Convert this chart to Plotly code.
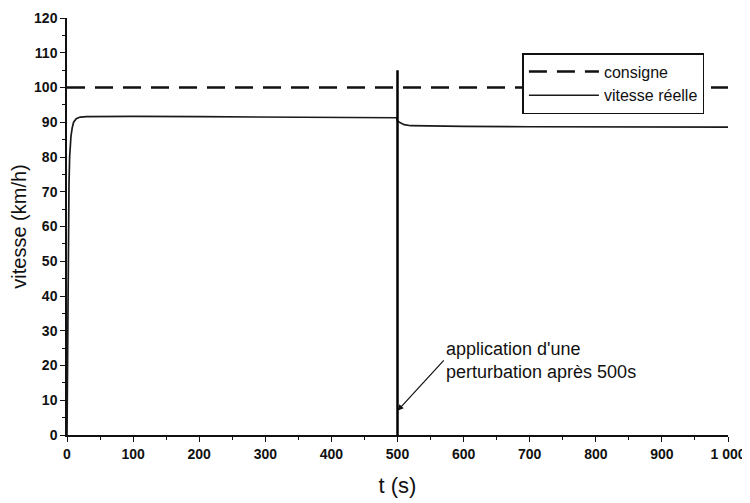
import plotly.graph_objects as go

# ---- data ----
t_consigne = [0, 1000]
consigne = [100, 100]

t_vitesse = [0, 1, 2, 3, 4, 6, 8, 10, 14, 20, 30, 60, 100, 200, 300, 400, 499,
             500, 505, 510, 520, 550, 600, 700, 800, 900, 1000]
vitesse = [0, 30, 55, 72, 80, 86, 88.5, 90, 91, 91.5, 91.6, 91.7, 91.7, 91.6, 91.5, 91.4, 91.3,
           90.3, 89.7, 89.3, 89.0, 88.9, 88.8, 88.7, 88.7, 88.6, 88.6]

perturbation_t = 500
perturbation_span = [0, 105]

x_ticks = [0, 100, 200, 300, 400, 500, 600, 700, 800, 900, 1000]
x_ticklabels = ["0", "100", "200", "300", "400", "500", "600", "700", "800", "900", "1 000"]
y_ticks = [0, 10, 20, 30, 40, 50, 60, 70, 80, 90, 100, 110, 120]

annotation_text = "application d'une<br>perturbation après 500s"
annotation_head = (500, 7)
annotation_tail = (570, 21.5)

FONT = "Liberation Sans, Arial, sans-serif"

fig = go.Figure()

fig.add_trace(go.Scatter(
    x=t_consigne, y=consigne, mode="lines", name="consigne",
    line=dict(color="#111111", width=2.5, dash="18px,10px"),
))
fig.add_trace(go.Scatter(
    x=t_vitesse, y=vitesse, mode="lines", name="vitesse réelle",
    line=dict(color="#1a1a1a", width=1.7),
))
fig.add_trace(go.Scatter(
    x=[perturbation_t, perturbation_t], y=perturbation_span, mode="lines",
    line=dict(color="#000000", width=2.5), showlegend=False, hoverinfo="skip",
))

fig.add_annotation(
    x=annotation_head[0], y=annotation_head[1],
    ax=annotation_tail[0], ay=annotation_tail[1], axref="x", ayref="y",
    text=annotation_text, showarrow=True, arrowhead=2, arrowsize=1, arrowwidth=1.2,
    arrowcolor="#111111", xanchor="left", yanchor="middle", align="left",
    font=dict(family=FONT, size=18, color="#111111"),
)

fig.update_layout(
    width=750, height=503,
    margin=dict(l=59, r=30, t=10, b=76),
    paper_bgcolor="white", plot_bgcolor="white",
    font=dict(family=FONT, color="#111111"),
    legend=dict(
        x=0.689, y=0.916, xanchor="left", yanchor="top",
        bordercolor="#111111", borderwidth=1.5, bgcolor="white",
        font=dict(family=FONT, size=16, color="#111111"),
        tracegroupgap=0, itemwidth=70,
    ),
)

fig.update_xaxes(
    range=[0, 1000], tickvals=x_ticks, ticktext=["<b>%s</b>" % s for s in x_ticklabels],
    automargin=False, ticklabeloverflow="allow",
    showgrid=False, zeroline=False, showline=True, linecolor="#111111", linewidth=1.5,
    ticks="outside", ticklen=5, tickcolor="#111111",
    minor=dict(dtick=50, ticks="outside", ticklen=3, tickcolor="#111111"),
    tickfont=dict(family=FONT, size=14, color="#111111"),
    title=dict(text="t (s)", font=dict(family=FONT, size=22, color="#111111"), standoff=17),
)
fig.update_yaxes(
    range=[0, 120], tickvals=y_ticks, ticktext=["<b>%d</b>" % v for v in y_ticks],
    automargin=False,
    showgrid=False, zeroline=False, showline=True, linecolor="#111111", linewidth=1.5,
    ticks="outside", ticklen=5, tickcolor="#111111",
    minor=dict(dtick=5, ticks="outside", ticklen=3, tickcolor="#111111"),
    tickfont=dict(family=FONT, size=14, color="#111111"),
    title=dict(text="vitesse (km/h)", font=dict(family=FONT, size=20, color="#111111"), standoff=8),
)

fig.write_html("out.html")
